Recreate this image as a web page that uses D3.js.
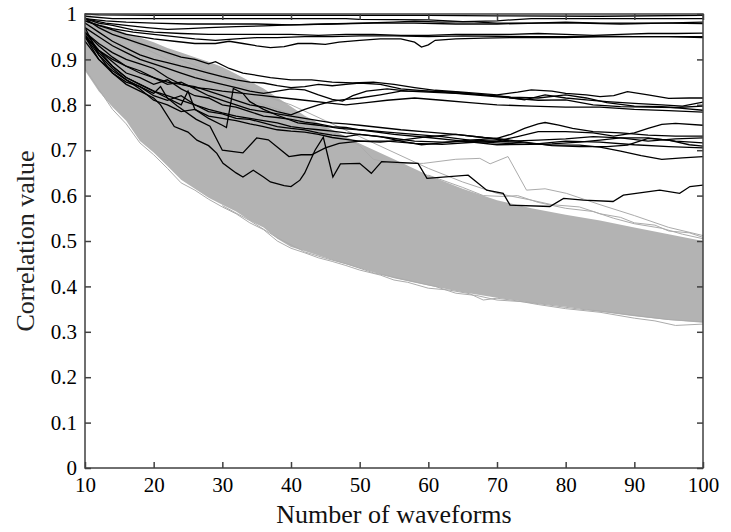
<!DOCTYPE html>
<html>
<head>
<meta charset="utf-8">
<script src="https://cdn.jsdelivr.net/npm/d3@7"></script>
<style>
  html, body { margin: 0; padding: 0; background: #fff; }
  svg { display: block; }
  svg text { font-family: "Liberation Serif", "Times New Roman", Times, serif !important; }
</style>
</head>
<body>
<svg id="chart" width="731" height="532"></svg>
<script>
// ---------------- DATA ----------------
const xTicks = [10, 20, 30, 40, 50, 60, 70, 80, 90, 100];
const yTicks = [0, 0.1, 0.2, 0.3, 0.4, 0.5, 0.6, 0.7, 0.8, 0.9, 1];
const xTitle = "Number of waveforms";
const yTitle = "Correlation value";

// Dense grey band: upper and lower envelope
const bandX     = [10, 12, 14, 16, 18, 20, 22, 24, 26, 28, 30, 32, 34, 36, 38, 40, 42, 44, 46, 48, 50, 55, 60, 65, 70, 75, 80, 85, 90, 95, 100];
const bandUpper = [0.99, 0.98, 0.968, 0.958, 0.948, 0.938, 0.925, 0.915, 0.905, 0.895, 0.883, 0.868, 0.852, 0.836, 0.816, 0.796, 0.776, 0.76, 0.745, 0.73, 0.715, 0.68, 0.645, 0.615, 0.59, 0.572, 0.558, 0.545, 0.53, 0.515, 0.5];
const bandLower = [0.875, 0.83, 0.795, 0.765, 0.72, 0.695, 0.665, 0.635, 0.615, 0.595, 0.58, 0.565, 0.545, 0.53, 0.505, 0.487, 0.478, 0.468, 0.458, 0.449, 0.44, 0.418, 0.402, 0.387, 0.375, 0.364, 0.355, 0.344, 0.334, 0.326, 0.32];

// Individual grey lines at the edges of the band  [waveforms, correlation]
const grey1 = [[10,0.99],[14,0.96],[18,0.93],[22,0.9],[26,0.87],[30,0.84],[34,0.81],[38,0.79],[42,0.77],[46,0.74],[50,0.71],[52,0.68],[55,0.67],[59.3,0.671],[64,0.68],[67.5,0.682],[69,0.67],[71.6,0.686],[74.3,0.612],[77,0.615],[80.1,0.605],[85,0.58],[90,0.556],[95,0.53],[100,0.512]];
const grey2 = [[10,0.99],[20,0.925],[30,0.86],[36,0.82],[40,0.8],[45,0.765],[50,0.73],[55,0.695],[60,0.66],[65,0.63],[70,0.605],[75,0.59],[78,0.58],[82,0.575],[85,0.56],[88,0.552],[90,0.54],[93,0.535],[95,0.522],[98,0.518],[100,0.508]];
const grey3 = [[60,0.645],[65,0.618],[68,0.6],[71,0.598],[73,0.6],[76,0.585],[80,0.572],[84,0.565],[87,0.55],[90,0.538],[94,0.528],[97,0.515],[100,0.505]];
const grey4 = [[10,0.88],[12,0.835],[14,0.79],[16,0.758],[18,0.716],[20,0.69],[22,0.66],[24,0.628],[26,0.612],[28,0.592],[30,0.575],[32,0.56],[34,0.54],[36,0.525],[38,0.5],[40,0.484],[42,0.474],[44,0.463],[46,0.455],[48,0.446],[50,0.436],[53,0.425],[55,0.414],[57,0.409],[60,0.396],[63,0.392],[66,0.384],[68,0.37],[70,0.374],[73,0.368],[76,0.36],[80,0.351],[85,0.343],[90,0.33],[93,0.324],[96,0.314],[100,0.317]];
const grey5 = [[30,0.578],[34,0.545],[38,0.507],[42,0.476],[45,0.462],[48,0.45],[52,0.43],[55,0.42],[58,0.41],[61,0.4],[64,0.385],[67,0.38],[70,0.37],[74,0.366],[78,0.358],[82,0.35],[86,0.344],[90,0.336],[95,0.327],[100,0.322]];

// Black lines  [waveforms, correlation]
const lineT1 = [[10,1.0],[12,0.998],[20,0.997],[40,0.997],[60,0.997],[70,0.996],[85,0.995],[100,0.997]];
const lineT2 = [[10,0.995],[14,0.99],[20,0.99],[30,0.99],[40,0.99],[48,0.99],[50,0.988],[60,0.987],[65,0.983],[70,0.985],[75,0.99],[85,0.99],[100,0.99]];
const lineT3 = [[10,0.99],[13,0.985],[16,0.982],[20,0.98],[25,0.978],[30,0.978],[35,0.978],[40,0.976],[45,0.978],[50,0.98],[55,0.982],[58,0.984],[62,0.982],[66,0.983],[70,0.98],[75,0.98],[80,0.982],[85,0.98],[90,0.98],[95,0.98],[100,0.979]];
const lineT4 = [[10,0.99],[13,0.98],[16,0.975],[19,0.97],[22,0.966],[25,0.968],[28,0.97],[32,0.972],[36,0.974],[40,0.976],[46,0.978],[52,0.98],[58,0.98],[64,0.978],[70,0.978],[76,0.98],[82,0.98],[88,0.978],[94,0.98],[100,0.982]];
const lineT5 = [[10,0.99],[12,0.98],[14,0.975],[17,0.965],[20,0.96],[24,0.957],[28,0.955],[32,0.955],[36,0.955],[40,0.955],[44,0.953],[48,0.955],[52,0.955],[56,0.953],[60,0.953],[64,0.955],[68,0.955],[72,0.955],[76,0.957],[80,0.955],[84,0.953],[88,0.955],[92,0.957],[96,0.957],[100,0.958]];
const lineT6 = [[10,0.985],[12,0.975],[14,0.968],[17,0.96],[20,0.955],[23,0.95],[26,0.945],[29,0.942],[32,0.945],[35,0.948],[38,0.948],[42,0.95],[46,0.95],[50,0.952],[55,0.952],[60,0.95],[65,0.952],[70,0.951],[75,0.95],[80,0.95],[85,0.951],[90,0.95],[95,0.95],[100,0.95]];
const lineT7 = [[10,0.985],[12,0.975],[14,0.965],[16,0.955],[18,0.95],[20,0.945],[23,0.94],[26,0.935],[29,0.935],[31,0.94],[33,0.935],[35,0.93],[37,0.926],[39,0.928],[41,0.935],[43,0.935],[45,0.933],[47,0.938],[50,0.942],[53,0.945],[56,0.945],[58,0.938],[59,0.927],[60,0.932],[61,0.942],[64,0.945],[68,0.947],[72,0.948],[76,0.948],[80,0.948],[85,0.95],[90,0.95],[95,0.95],[100,0.948]];
const lineM1 = [[10,0.99],[12,0.97],[14,0.955],[16,0.945],[18,0.935],[20,0.925],[22,0.915],[24,0.905],[26,0.9],[28,0.89],[29,0.895],[31,0.88],[33,0.87],[35,0.865],[37,0.86],[40,0.855],[43,0.855],[46,0.85],[49,0.848],[52,0.85],[55,0.845],[58,0.838],[61,0.832],[65,0.828],[70,0.822],[73,0.828],[75,0.833],[78,0.83],[80,0.825],[83,0.822],[85,0.818],[87,0.82],[89,0.829],[92,0.822],[95,0.814],[98,0.815],[100,0.815]];
const lineM2 = [[10,0.98],[12,0.96],[14,0.94],[16,0.925],[18,0.91],[20,0.9],[22,0.893],[24,0.885],[26,0.878],[28,0.87],[30,0.862],[32,0.855],[34,0.85],[36,0.848],[38,0.842],[40,0.838],[42,0.84],[44,0.845],[46,0.842],[48,0.845],[50,0.848],[53,0.845],[56,0.835],[60,0.83],[64,0.828],[68,0.822],[71,0.818],[74,0.811],[77,0.822],[80,0.815],[83,0.811],[86,0.807],[90,0.803],[94,0.8],[97,0.797],[100,0.806]];
const lineM3 = [[10,0.97],[12,0.95],[14,0.93],[16,0.915],[18,0.9],[20,0.89],[22,0.88],[24,0.87],[26,0.86],[28,0.852],[30,0.845],[32,0.838],[34,0.83],[36,0.825],[38,0.83],[40,0.835],[42,0.833],[44,0.822],[46,0.812],[47.5,0.808],[49,0.82],[51,0.83],[54,0.835],[57,0.83],[60,0.828],[64,0.825],[68,0.82],[72,0.815],[76,0.81],[80,0.811],[84,0.8],[88,0.796],[92,0.795],[96,0.794],[100,0.797]];
const lineM4 = [[10,0.96],[12,0.935],[14,0.915],[16,0.9],[18,0.89],[20,0.88],[22,0.86],[24,0.845],[26,0.84],[28,0.83],[30,0.82],[32,0.81],[34,0.8],[36,0.795],[38,0.785],[40,0.778],[42,0.79],[44,0.8],[46,0.808],[48,0.812],[50,0.815],[53,0.822],[56,0.83],[60,0.83],[64,0.826],[68,0.822],[72,0.817],[76,0.815],[80,0.822],[83,0.815],[86,0.805],[90,0.797],[94,0.796],[97,0.792],[100,0.788]];
const lineM5 = [[10,0.95],[12,0.92],[14,0.9],[16,0.885],[18,0.87],[20,0.86],[22,0.85],[24,0.845],[26,0.838],[28,0.835],[30,0.83],[33,0.825],[36,0.82],[39,0.815],[42,0.81],[45,0.805],[48,0.8],[51,0.805],[54,0.81],[58,0.815],[62,0.81],[66,0.805],[70,0.8],[75,0.797],[80,0.795],[85,0.795],[90,0.79],[95,0.787],[100,0.784]];
const lineLa = [[10,0.96],[12,0.93],[14,0.905],[16,0.885],[18,0.875],[20,0.86],[22,0.845],[24,0.85],[26,0.835],[28,0.82],[30,0.81],[32,0.8],[34,0.79],[36,0.785],[38,0.78],[40,0.775],[42,0.77],[44,0.765],[46,0.76],[48,0.758],[50,0.755],[53,0.75],[56,0.745],[60,0.74],[64,0.735],[68,0.728],[70,0.726],[72,0.735],[74,0.748],[76,0.758],[77,0.761],[79,0.755],[81,0.748],[84,0.741],[88,0.738],[92,0.733],[96,0.731],[100,0.731]];
const lineLb = [[10,0.95],[12,0.92],[14,0.895],[16,0.87],[18,0.86],[20,0.845],[22,0.855],[24,0.835],[26,0.82],[28,0.815],[30,0.8],[32,0.795],[34,0.785],[36,0.775],[38,0.772],[40,0.768],[42,0.762],[44,0.758],[46,0.752],[48,0.75],[50,0.745],[54,0.74],[58,0.735],[62,0.73],[66,0.722],[70,0.72],[73,0.73],[76,0.741],[80,0.741],[84,0.738],[87,0.731],[90,0.738],[92,0.748],[94,0.757],[96,0.759],[100,0.755]];
const lineLc = [[10,0.955],[12,0.915],[14,0.885],[16,0.86],[18,0.845],[20,0.83],[22,0.82],[24,0.81],[26,0.8],[28,0.79],[30,0.782],[32,0.775],[34,0.77],[36,0.765],[38,0.76],[40,0.752],[42,0.748],[44,0.745],[46,0.742],[48,0.738],[50,0.735],[54,0.728],[58,0.72],[62,0.718],[66,0.72],[70,0.716],[74,0.713],[78,0.714],[82,0.718],[85,0.722],[88,0.727],[92,0.727],[96,0.72],[100,0.716]];
const lineLd = [[10,0.94],[12,0.9],[14,0.875],[16,0.855],[18,0.84],[20,0.82],[22,0.81],[24,0.82],[26,0.8],[28,0.785],[30,0.78],[32,0.77],[34,0.768],[36,0.76],[38,0.752],[40,0.748],[42,0.745],[44,0.738],[46,0.733],[48,0.73],[50,0.735],[53,0.73],[56,0.72],[59,0.712],[62,0.716],[66,0.722],[70,0.726],[74,0.718],[78,0.71],[82,0.708],[86,0.708],[89,0.711],[92,0.726],[95,0.722],[98,0.712],[100,0.709]];
const lineLe = [[10,0.95],[12,0.91],[14,0.88],[16,0.855],[18,0.835],[20,0.81],[22,0.8],[24,0.785],[26,0.79],[28,0.775],[30,0.77],[32,0.765],[34,0.758],[36,0.752],[38,0.745],[40,0.742],[42,0.74],[44,0.735],[46,0.728],[48,0.724],[50,0.72],[54,0.72],[58,0.715],[62,0.713],[66,0.717],[70,0.72],[74,0.716],[78,0.711],[82,0.711],[85,0.707],[88,0.698],[91,0.688],[94,0.68],[97,0.683],[100,0.686]];
const lineB  = [[10,0.96],[12,0.92],[14,0.885],[16,0.86],[18,0.845],[20,0.83],[22,0.815],[23.4,0.798],[26.2,0.768],[28.2,0.753],[30,0.7],[33,0.694],[35,0.727],[36.7,0.723],[39.7,0.686],[41.5,0.69],[43,0.69],[45,0.705],[47,0.715],[50,0.72],[53,0.718],[56,0.722],[60,0.73],[64,0.735],[68,0.728],[72,0.72],[76,0.722],[80,0.725],[84,0.73],[88,0.727],[92,0.72],[96,0.725],[100,0.727]];
const lineC  = [[10,0.95],[12,0.9],[14,0.87],[16,0.85],[18,0.84],[20,0.825],[21,0.84],[22,0.815],[24,0.8],[25,0.83],[26,0.79],[28,0.77],[30,0.755],[30.6,0.75],[31.6,0.836],[33,0.825],[34,0.807],[36,0.79],[38,0.777],[41,0.76],[44,0.755],[47,0.748],[50,0.745],[55,0.735],[60,0.728],[65,0.72],[70,0.712],[75,0.713],[80,0.72],[85,0.718],[90,0.712],[95,0.708],[100,0.705]];
const lineA  = [[10,0.97],[12,0.91],[14,0.87],[16,0.845],[18,0.83],[20,0.815],[21,0.8],[23,0.752],[25,0.74],[26.3,0.722],[28,0.71],[29.2,0.693],[30.1,0.671],[32,0.65],[33,0.641],[34.5,0.656],[36,0.641],[37,0.63],[39,0.622],[40,0.62],[41.3,0.634],[42,0.65],[43.5,0.7],[44.7,0.729],[46.1,0.641],[47.2,0.67],[50,0.671],[51.7,0.649],[53.2,0.675],[58.5,0.671],[59.8,0.638],[65.8,0.645],[68.5,0.612],[70.9,0.605],[71.9,0.579],[77.7,0.576],[79.7,0.594],[82.6,0.59],[86.9,0.587],[88.4,0.601],[93.7,0.612],[96.6,0.605],[98.1,0.62],[100,0.623]];

const greyLines  = [grey1, grey2, grey3, grey4, grey5];
const blackLines = [lineT1, lineT2, lineT3, lineT4, lineT5, lineT6, lineT7,
                    lineM1, lineM2, lineM3, lineM4, lineM5,
                    lineLa, lineLb, lineLc, lineLd, lineLe, lineB, lineC, lineA];

// ---------------- LAYOUT ----------------
const W = 731, H = 532;
const FONT = "'Liberation Serif', 'Times New Roman', Times, serif";
const margin = { left: 85, right: 28, top: 14, bottom: 64 };
const svg = d3.select("#chart");
const innerW = W - margin.left - margin.right;
const innerH = H - margin.top - margin.bottom;

const x = d3.scaleLinear().domain([10, 100]).range([margin.left, margin.left + innerW]);
const y = d3.scaleLinear().domain([0, 1]).range([margin.top + innerH, margin.top]);

svg.append("defs").append("clipPath").attr("id", "clip")
  .append("rect").attr("x", margin.left).attr("y", margin.top - 1)
  .attr("width", innerW).attr("height", innerH + 1);

const plot = svg.append("g").attr("clip-path", "url(#clip)");

// grey band
const bandData = bandX.map((n, i) => ({ n, lo: bandLower[i], hi: bandUpper[i] }));
plot.append("path")
  .datum(bandData)
  .attr("fill", "#b3b3b3")
  .attr("d", d3.area().x(d => x(d.n)).y0(d => y(d.lo)).y1(d => y(d.hi)));

const line = d3.line().x(d => x(d[0])).y(d => y(d[1]));

plot.selectAll("path.grey").data(greyLines).join("path")
  .attr("class", "grey")
  .attr("fill", "none").attr("stroke", "#ababab").attr("stroke-width", 1)
  .attr("d", line);

plot.selectAll("path.black").data(blackLines).join("path")
  .attr("class", "black")
  .attr("fill", "none").attr("stroke", "#000").attr("stroke-width", 1.3)
  .attr("d", line);

// ---------------- AXES ----------------
const fmt = d => String(+d.toFixed(1));
const axisColor = "#404040";

const gx = svg.append("g").attr("transform", `translate(0,${margin.top + innerH})`)
  .call(d3.axisBottom(x).tickValues(xTicks).tickSize(-6).tickPadding(9).tickFormat(fmt));
const gxt = svg.append("g").attr("transform", `translate(0,${margin.top})`)
  .call(d3.axisTop(x).tickValues(xTicks).tickSize(-6).tickFormat(""));
const gy = svg.append("g").attr("transform", `translate(${margin.left},0)`)
  .call(d3.axisLeft(y).tickValues(yTicks).tickSize(-6).tickPadding(8).tickFormat(fmt));
const gyr = svg.append("g").attr("transform", `translate(${margin.left + innerW},0)`)
  .call(d3.axisRight(y).tickValues(yTicks).tickSize(-6).tickFormat(""));

[gx, gxt, gy, gyr].forEach(g => {
  g.attr("font-family", FONT).attr("font-size", 21);
  g.select(".domain").remove();
  g.selectAll(".tick line").attr("stroke", axisColor).attr("stroke-width", 1.5);
  g.selectAll("text").attr("fill", "#000")
    .attr("font-family", FONT).style("font-size", "21px");
});

svg.append("rect")
  .attr("x", margin.left).attr("y", margin.top)
  .attr("width", innerW).attr("height", innerH)
  .attr("fill", "none").attr("stroke", axisColor).attr("stroke-width", 1.5);

// titles
svg.append("text")
  .attr("x", margin.left + innerW / 2).attr("y", 523)
  .attr("text-anchor", "middle")
  .attr("font-family", FONT)
  .style("font-size", "26px").attr("fill", "#111")
  .text(xTitle);

svg.append("text")
  .attr("transform", `translate(34,${margin.top + innerH / 2}) rotate(-90)`)
  .attr("text-anchor", "middle")
  .attr("font-family", FONT)
  .style("font-size", "26px").attr("fill", "#222")
  .text(yTitle);
</script>
</body>
</html>
